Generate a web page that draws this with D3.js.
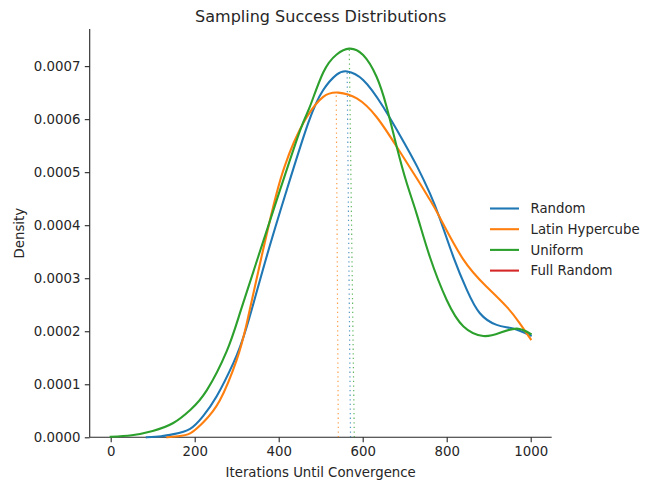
<!DOCTYPE html>
<html>
<head>
<meta charset="utf-8">
<script src="https://cdn.jsdelivr.net/npm/d3@7"></script>
<style>
  html, body { margin: 0; padding: 0; background: #fff; }
  svg text { font-family: "DejaVu Sans", sans-serif; fill: #262626; }
</style>
</head>
<body>
<svg id="chart" width="653" height="484"></svg>
<script>
// Kernel density estimates of iterations until convergence, per sampling strategy.
// Points are [iterations, density in units of 1e-4].
const seriesNames = ["Random", "Latin Hypercube", "Uniform", "Full Random"];
const seriesColors = ["#1f77b4", "#ff7f0e", "#2ca02c", "#d62728"];

const randomDensity = [
  [86, 0.0], [120, 0.02], [150, 0.06], [189, 0.16], [220, 0.40], [252, 0.77],
  [292, 1.40], [324, 2.09], [371, 3.40], [419, 4.66], [470, 5.92], [506, 6.55],
  [538, 6.84], [563, 6.90], [601, 6.74], [649, 6.23], [697, 5.58], [730, 5.10],
  [760, 4.60], [784, 4.12], [816, 3.40], [848, 2.78], [879, 2.34], [919, 2.12],
  [958, 2.05], [1000, 1.92]
];
const latinDensity = [
  [135, 0.0], [160, 0.02], [189, 0.075], [220, 0.28], [260, 0.70], [300, 1.46],
  [324, 2.15], [359, 3.40], [395, 4.60], [415, 5.13], [435, 5.54], [467, 6.04],
  [506, 6.42], [542, 6.50], [586, 6.39], [633, 6.04], [681, 5.48], [729, 4.88],
  [760, 4.48], [784, 4.14], [839, 3.36], [895, 2.84], [943, 2.46], [974, 2.15],
  [1000, 1.85]
];
const uniformDensity = [
  [0, 0.01], [50, 0.04], [100, 0.12], [149, 0.27], [190, 0.52], [229, 0.89],
  [276, 1.62], [308, 2.35], [351, 3.40], [403, 4.66], [451, 5.79], [474, 6.23],
  [506, 6.88], [538, 7.22], [568, 7.33], [601, 7.21], [633, 6.80], [657, 6.23],
  [681, 5.48], [705, 4.79], [729, 4.20], [760, 3.40], [800, 2.59], [840, 2.09],
  [887, 1.91], [927, 1.97], [967, 2.05], [1000, 1.95]
];
const fullRandomDensity = [];

// Dotted markers: [iterations at base, iterations at top, density at top (1e-4)]
const centerMarkers = [
  [571, 563, 6.89],
  [542, 537, 6.50],
  [580, 568, 7.33]
];

const xTicks = [0, 200, 400, 600, 800, 1000];
const yTicks = [0, 0.0001, 0.0002, 0.0003, 0.0004, 0.0005, 0.0006, 0.0007];

const chartTitle = "Sampling Success Distributions";
const xLabel = "Iterations Until Convergence";
const yLabel = "Density";

const svg = d3.select("#chart");
const plotLeft = 89.7, plotRight = 551.7, plotTop = 29, plotBottom = 437.3;

const x = d3.scaleLinear().domain([-50, 1050]).range([plotLeft, plotRight]);
const y = d3.scaleLinear().domain([0, 0.00077]).range([plotBottom, plotTop]);

const allSeries = [randomDensity, latinDensity, uniformDensity, fullRandomDensity];

// Axes
const xAxis = d3.axisBottom(x).tickValues(xTicks).tickSize(4.9).tickPadding(4).tickFormat(d3.format("d"));
const yAxis = d3.axisLeft(y).tickValues(yTicks).tickSize(4.9).tickPadding(4.4).tickFormat(d3.format(".4f"));

const gx = svg.append("g").attr("transform", `translate(0,${plotBottom})`).call(xAxis);
const gy = svg.append("g").attr("transform", `translate(${plotLeft},0)`).call(yAxis);
[gx, gy].forEach(g => {
  g.selectAll(".domain").attr("stroke", "#262626").attr("stroke-width", 1.1);
  g.selectAll(".tick line").attr("stroke", "#262626").attr("stroke-width", 1.1);
  g.selectAll(".tick text").attr("font-size", "13.3px").attr("fill", "#262626")
    .style("font-family", "'DejaVu Sans', sans-serif");
});
gx.select(".domain").attr("d", `M${plotLeft},0H${plotRight}`);
gy.select(".domain").attr("d", `M0,${plotBottom}V${plotTop}`);

// Dotted center markers
const plot = svg.append("g");
centerMarkers.forEach((m, i) => {
  plot.append("line")
    .attr("x1", x(m[0])).attr("y1", y(0))
    .attr("x2", x(m[1])).attr("y2", y(m[2] * 1e-4))
    .attr("stroke", seriesColors[i])
    .attr("stroke-width", 1.2)
    .attr("stroke-dasharray", "1.3,3.3")
    .attr("opacity", 0.75);
});

// Density curves (natural cubic spline through the sampled points)
const line = d3.line()
  .x(d => x(d[0]))
  .y(d => y(d[1] * 1e-4))
  .curve(d3.curveNatural);

allSeries.forEach((pts, i) => {
  if (!pts.length) return;
  plot.append("path")
    .datum(pts)
    .attr("d", line)
    .attr("fill", "none")
    .attr("stroke", seriesColors[i])
    .attr("stroke-width", 2.1)
    .attr("stroke-linejoin", "round")
    .attr("stroke-linecap", "square");
});

// Title and axis labels
svg.append("text").attr("x", (plotLeft + plotRight) / 2).attr("y", 22)
  .attr("text-anchor", "middle").attr("font-size", "16px").text(chartTitle);
svg.append("text").attr("x", (plotLeft + plotRight) / 2).attr("y", 477)
  .attr("text-anchor", "middle").attr("font-size", "13.3px").text(xLabel);
svg.append("text").attr("transform", `translate(24,${(plotTop + plotBottom) / 2}) rotate(-90)`)
  .attr("text-anchor", "middle").attr("font-size", "13.3px").text(yLabel);

// Legend
const legend = svg.append("g").attr("transform", "translate(490,208.5)");
seriesNames.forEach((name, i) => {
  const row = legend.append("g").attr("transform", `translate(0,${i * 20.7})`);
  row.append("line").attr("x1", 0).attr("x2", 29).attr("y1", 0).attr("y2", 0)
    .attr("stroke", seriesColors[i]).attr("stroke-width", 2.1);
  row.append("text").attr("x", 40.5).attr("y", 0).attr("dy", "0.35em")
    .attr("font-size", "13.3px").text(name);
});
</script>
</body>
</html>
